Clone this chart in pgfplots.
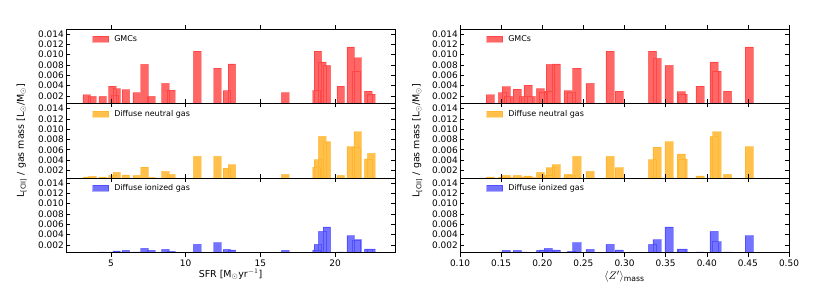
\documentclass[border=0pt]{standalone}
\usepackage{pgfplots}
\pgfplotsset{compat=1.18}
\usepackage{fontspec}
\setmainfont{DejaVu Sans}
\definecolor{mplorange}{RGB}{255,165,0}
\definecolor{mplred}{RGB}{255,0,0}
\definecolor{mplblue}{RGB}{0,0,255}

\pgfplotstableread{
x y
3.38 0.0022
3.77 0.0019
4.45 0.0019
5.10 0.0039
5.38 0.0034
5.25 0.0021
6.00 0.0032
6.73 0.0026
7.25 0.0081
7.71 0.0019
8.64 0.0044
9.03 0.0031
10.77 0.0107
12.13 0.0074
12.76 0.0030
13.09 0.0082
16.65 0.0026
18.75 0.0030
18.85 0.0107
19.13 0.0086
19.45 0.0079
20.36 0.0039
21.04 0.0115
21.40 0.0068
21.50 0.0094
22.20 0.0029
22.40 0.0023
}\sfrgmc
\pgfplotstableread{
x y
3.38 0.0007
3.77 0.0008
4.45 0.0007
5.10 0.0010
5.38 0.0016
6.00 0.0011
6.73 0.0010
7.25 0.0026
7.71 0.0006
8.64 0.0018
9.03 0.0012
10.77 0.0047
12.13 0.0047
12.76 0.0024
13.09 0.0031
16.65 0.0012
18.75 0.0026
18.85 0.0041
19.13 0.0086
19.45 0.0076
20.36 0.0010
21.04 0.0066
21.40 0.0065
21.50 0.0095
22.20 0.0042
22.40 0.0053
}\sfrdnm
\pgfplotstableread{
x y
4.45 0.0006
5.10 0.0006
5.38 0.0008
6.00 0.0009
6.73 0.0006
7.25 0.0013
7.71 0.0009
8.64 0.0011
9.03 0.0007
10.77 0.0021
12.13 0.0024
12.76 0.0011
13.09 0.0010
16.65 0.0009
18.75 0.0010
18.85 0.0021
19.13 0.0046
19.45 0.0055
20.36 0.0006
21.04 0.0038
21.40 0.0028
21.50 0.0030
22.20 0.0012
22.40 0.0012
}\sfrdim
\pgfplotstableread{
x y
0.1367 0.0022
0.1517 0.0026
0.1563 0.0038
0.1590 0.0019
0.1697 0.0033
0.1766 0.0019
0.1827 0.0041
0.1865 0.0019
0.1977 0.0034
0.2013 0.0026
0.2072 0.0029
0.2098 0.0081
0.2171 0.0082
0.2313 0.0030
0.2354 0.0026
0.2419 0.0074
0.2580 0.0044
0.2824 0.0107
0.2935 0.0029
0.3340 0.0107
0.3395 0.0093
0.3540 0.0079
0.3690 0.0028
0.3710 0.0023
0.3918 0.0039
0.4088 0.0086
0.4122 0.0068
0.4252 0.0029
0.4517 0.0115
}\zgmc
\pgfplotstableread{
x y
0.1367 0.0007
0.1517 0.0007
0.1563 0.0010
0.1590 0.0006
0.1697 0.0010
0.1766 0.0007
0.1827 0.0009
0.1865 0.0006
0.1977 0.0016
0.2013 0.0010
0.2072 0.0011
0.2098 0.0025
0.2171 0.0031
0.2313 0.0012
0.2354 0.0010
0.2419 0.0047
0.2580 0.0018
0.2824 0.0047
0.2935 0.0025
0.3340 0.0041
0.3395 0.0065
0.3540 0.0076
0.3690 0.0052
0.3710 0.0042
0.3918 0.0009
0.4088 0.0086
0.4122 0.0095
0.4252 0.0012
0.4517 0.0066
}\zdnm
\pgfplotstableread{
x y
0.1517 0.0006
0.1563 0.0009
0.1697 0.0009
0.1766 0.0006
0.1977 0.0009
0.2013 0.0010
0.2072 0.0013
0.2098 0.0009
0.2171 0.0010
0.2354 0.0007
0.2419 0.0024
0.2580 0.0011
0.2824 0.0021
0.2935 0.0010
0.3340 0.0021
0.3395 0.0030
0.3540 0.0055
0.3690 0.0012
0.3710 0.0012
0.3918 0.0006
0.4088 0.0046
0.4122 0.0026
0.4252 0.0006
0.4517 0.0038
}\zdim

\pgfplotsset{
  panel/.style={
    scale only axis, width=329bp, height=74.5bp,
    ymin=0.0005, ymax=0.015,
    ytick={0.002,0.004,0.006,0.008,0.010,0.012,0.014},
    scaled y ticks=false, scaled x ticks=false,
    /pgf/number format/assume math mode=true,
    yticklabel style={/pgf/number format/.cd, fixed, fixed zerofill, precision=3, /tikz/.cd, font=\fontsize{9}{10}\selectfont, inner sep=2bp},
    xticklabel style={font=\fontsize{9}{10}\selectfont},
    tick align=inside, major tick length=4bp,
    tick style={black, line width=0.5bp},
    axis line style={black, line width=0.8bp},
    axis on top,
    ybar, bar shift=0pt,
    legend image code/.code={\draw[##1] (0bp,-3bp) rectangle (16bp,3bp); \path (19.5bp,0bp);},
    legend style={draw=none, fill=none, at={(0,1)}, anchor=north west, xshift=25bp, yshift=-3.5bp,
      font=\fontsize{8}{9}\selectfont, inner sep=1bp},
  },
  lpanel/.style={panel, xmin=2, xmax=24, xtick={5,10,15,20}, bar width=0.5},
  rpanel/.style={panel, xmin=0.10, xmax=0.50, xtick={0.10,0.15,0.20,0.25,0.30,0.35,0.40,0.45,0.50}, bar width=0.01,
    xticklabel style={/pgf/number format/.cd, fixed, fixed zerofill, precision=2}},
  redbar/.style={fill=mplred, fill opacity=0.6, draw=mplred, draw opacity=0.3, line width=0.6bp},
  orgbar/.style={fill=mplorange, fill opacity=0.7, draw=mplorange, draw opacity=0.35, line width=0.6bp},
  blubar/.style={fill=mplblue, fill opacity=0.55, draw=mplblue, draw opacity=0.3, line width=0.6bp},
}

\begin{document}
\begin{tikzpicture}
\useasboundingbox (0,0) rectangle (830bp,297bp);
% left column
\begin{axis}[lpanel, at={(66bp,193.5bp)}, anchor=south west, xticklabels={}]
\addplot[redbar] table {\sfrgmc};
\addlegendentry{GMCs}
\end{axis}
\begin{axis}[lpanel, at={(66bp,119bp)}, anchor=south west, xticklabels={},
  ylabel={L\textsubscript{[CII]} / gas mass [L$_\odot$/M$_\odot$]},
  ylabel style={at={(axis description cs:-0.135,0.5)}, anchor=center, font=\fontsize{9.5}{11}\selectfont}]
\addplot[orgbar] table {\sfrdnm};
\addlegendentry{Diffuse neutral gas}
\end{axis}
\begin{axis}[lpanel, at={(66bp,44.5bp)}, anchor=south west,
  xlabel={SFR [M$_\odot$yr$^{-1}$]},
  xlabel style={at={(axis description cs:0.5,0)}, anchor=center, yshift=-22bp, inner sep=0pt, font=\fontsize{9.5}{11}\selectfont}]
\addplot[blubar] table {\sfrdim};
\addlegendentry{Diffuse ionized gas}
\end{axis}
% right column
\begin{axis}[rpanel, at={(460bp,193.5bp)}, anchor=south west, xticklabels={}]
\addplot[redbar] table {\zgmc};
\addlegendentry{GMCs}
\end{axis}
\begin{axis}[rpanel, at={(460bp,119bp)}, anchor=south west, xticklabels={},
  ylabel={L\textsubscript{[CII]} / gas mass [L$_\odot$/M$_\odot$]},
  ylabel style={at={(axis description cs:-0.13,0.5)}, anchor=center, font=\fontsize{9.5}{11}\selectfont}]
\addplot[orgbar] table {\zdnm};
\addlegendentry{Diffuse neutral gas}
\end{axis}
\begin{axis}[rpanel, at={(460bp,44.5bp)}, anchor=south west,
  xlabel={$\langle Z'\rangle_{\mathrm{mass}}$},
  xlabel style={at={(axis description cs:0.5,0)}, anchor=center, yshift=-24.5bp, inner sep=0pt, font=\fontsize{11}{12}\selectfont}]
\addplot[blubar] table {\zdim};
\addlegendentry{Diffuse ionized gas}
\end{axis}
\end{tikzpicture}
\end{document}
